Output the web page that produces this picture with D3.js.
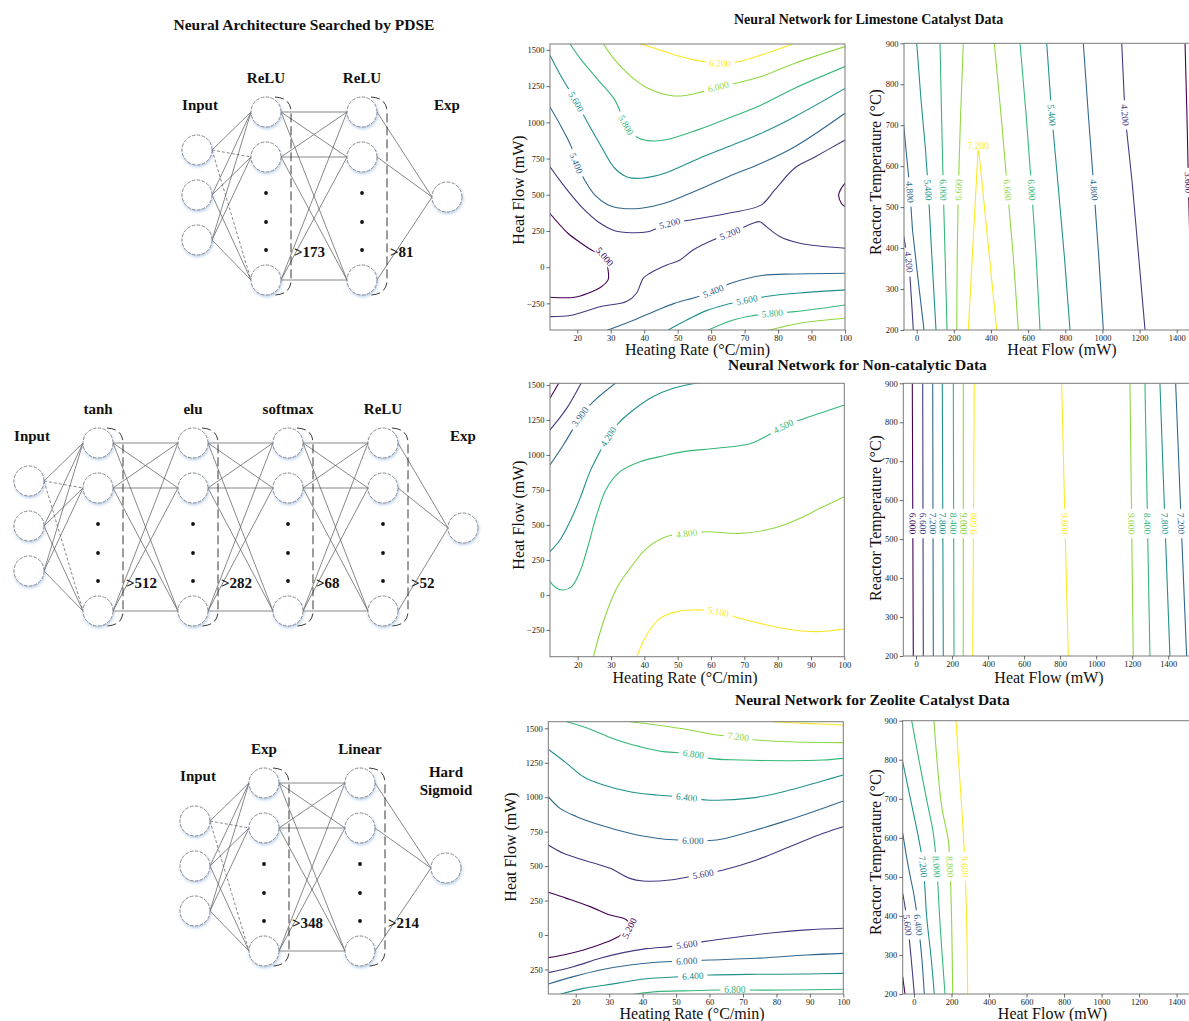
<!DOCTYPE html>
<html><head><meta charset="utf-8">
<script src="https://cdnjs.cloudflare.com/ajax/libs/d3/7.8.5/d3.min.js"></script>
<style>body{margin:0;background:#fff}svg{display:block}</style>
</head><body>
<svg id="c" width="1189" height="1021"></svg>
<script>
const FONT = "'Liberation Serif','Times New Roman',Times,serif";

// ---------------- network architecture data ----------------
const inputLabel = "Input";
const limestoneActs = ["ReLU", "ReLU"];
const limestoneUnits = [173, 81];
const limestoneOut = ["Exp"];
const nonCatActs = ["tanh", "elu", "softmax", "ReLU"];
const nonCatUnits = [512, 282, 68, 52];
const nonCatOut = ["Exp"];
const zeoliteActs = ["Exp", "Linear"];
const zeoliteUnits = [348, 214];
const zeoliteOut = ["Hard", "Sigmoid"];

// ---------------- tick values / labels ----------------
const rateTicks = [20, 30, 40, 50, 60, 70, 80, 90, 100];
const flowTicksY = [-250, 0, 250, 500, 750, 1000, 1250, 1500];
const flowTicksX = [0, 200, 400, 600, 800, 1000, 1200, 1400];
const tempTicks = [200, 300, 400, 500, 600, 700, 800, 900];
const zeoFlowTickLabels = ["250", "0", "250", "500", "750", "1000", "1250", "1500"];

// ---------------- contour lines (x, y in data units), lab = vertex indices carrying a label ----------------
// Limestone: Heating rate (°C/min) vs Heat flow (mW)
const limeRateLines = [
 {level:6.2, pts:[[38.1,1546],[43.1,1512],[49.1,1465],[56.0,1426],[62.6,1408],[68.1,1419],[75.0,1465],[85.0,1546]], lab:[4]},
 {level:6.0, pts:[[27.7,1546],[31.2,1431],[36.1,1316],[41.1,1236],[49.1,1182],[56.0,1203],[62.1,1247],[68.1,1274],[75.0,1316],[85.0,1408],[100,1523]], lab:[6]},
 {level:5.8, pts:[[17.7,1546],[21.2,1431],[26.2,1293],[31.2,1155],[34.6,982],[37.6,901],[41.1,874],[46.1,878],[56.0,948],[65.1,1028],[75.0,1120],[85.0,1236],[100,1385]], lab:[4]},
 {level:5.6, pts:[[11.8,1465],[15.2,1316],[19.7,1143],[23.2,994],[27.2,832],[31.2,683],[35.1,621],[39.1,614],[46.1,648],[56.0,747],[65.1,832],[75.0,925],[85.0,1039],[100,1234]], lab:[2]},
 {level:5.4, pts:[[11.8,1108],[15.2,970],[18.2,832],[19.7,718],[22.2,602],[25.2,499],[29.2,430],[33.1,407],[39.1,407],[46.1,441],[56.0,533],[65.1,625],[75.0,718],[85.0,832],[100,1063]], lab:[3]},
 {level:5.2, pts:[[11.8,694],[16.2,556],[21.2,418],[26.2,314],[31.2,252],[36.1,238],[41.1,245],[47.6,303],[54.0,326],[65.1,372],[75.0,430],[79.0,533],[85.0,685],[91.0,761],[100,878]], lab:[7]},
 {level:5.0, pts:[[11.8,372],[17.2,234],[21.2,165],[24.2,119],[28.2,73],[29.2,-19],[29.2,-88],[27.2,-135],[23.2,-180],[19.2,-208],[11.8,-208]], lab:[4]},
 {level:5.0, pts:[[100,579],[98.9,545],[98.1,499],[98.9,441],[100,418]], lab:[]},
 {level:5.2, pts:[[11.8,-342],[18.7,-330],[26.8,-273],[34.7,-238],[37.7,-180],[39.7,-77],[41.7,-42],[46.7,15],[50.7,50],[54.6,119],[60.6,188],[65.6,234],[72.5,303],[74.5,314],[76.5,280],[80.5,211],[86.5,165],[100,131]], lab:[11]},
 {level:5.4, pts:[[28.5,-440],[37.0,-365],[44.0,-296],[49.0,-250],[56.0,-204],[60.6,-165],[66.1,-110],[75.0,-58],[85.0,-47],[100,-42]], lab:[5]},
 {level:5.6, pts:[[46.7,-440],[52.7,-365],[58.4,-302],[64.1,-261],[70.7,-227],[77.5,-199],[86.5,-178],[100,-157]], lab:[4]},
 {level:5.8, pts:[[58.6,-440],[66.6,-365],[72.5,-335],[78.3,-318],[85.0,-307],[100,-261]], lab:[3]},
 {level:6.0, pts:[[76.5,-440],[86.5,-387],[100,-353]], lab:[]}
];
// Limestone: Heat flow (mW) vs Reactor temperature (°C)
const limeTempLines = [
 {level:4.2, pts:[[-71,432],[-57.6,395],[-41.5,366],[-28,273],[-18.3,200]], lab:[2]},
 {level:4.8, pts:[[-71.1,705],[-57.6,640],[-44.2,578],[-36.1,537],[-22.6,444],[1.6,346],[39.3,200]], lab:[3]},
 {level:5.4, pts:[[0,900],[23.2,762],[47.4,640],[62.5,542],[79.7,395],[103.9,200]], lab:[3]},
 {level:6.0, pts:[[125.5,900],[134,720],[143.2,542],[153,380],[163.2,200]], lab:[2]},
 {level:6.6, pts:[[250.9,900],[236,720],[224,542],[218,380],[215.4,200]], lab:[2]},
 {level:7.2, pts:[[277.9,200],[331.7,650],[430.8,200]], lab:[1]},
 {level:6.6, pts:[[417.9,900],[455,720],[489,542],[520,380],[547.1,200]], lab:[2]},
 {level:6.0, pts:[[556.3,900],[590,720],[619.3,542],[643,380],[664,200]], lab:[2]},
 {level:5.4, pts:[[700.1,900],[727,725],[760,560],[795,380],[825.5,200]], lab:[1]},
 {level:4.8, pts:[[897.1,900],[925,720],[954.7,542],[980,380],[1004.8,200]], lab:[2]},
 {level:4.2, pts:[[1103.9,900],[1121.7,725],[1160,560],[1195,380],[1229.4,200]], lab:[1]},
 {level:3.6, pts:[[1444.8,900],[1455,725],[1463,560],[1472,380],[1482.5,200]], lab:[2]}
];
// Non-catalytic: Heating rate vs Heat flow
const nonCatRateLines = [
 {level:3.3, pts:[[11.7,1405],[14.5,1520]], lab:[]},
 {level:3.6, pts:[[11.7,1179],[16.7,1333],[21.2,1520]], lab:[]},
 {level:3.9, pts:[[11.7,929],[15.7,1071],[18.7,1190],[20.7,1274],[24.7,1381],[31.7,1520]], lab:[3]},
 {level:4.2, pts:[[11.7,310],[14.7,393],[17.7,524],[20.7,690],[23.7,881],[26.7,1024],[29.2,1131],[32.2,1226],[36.7,1321],[42.7,1417],[48.7,1476],[57.2,1520]], lab:[6]},
 {level:4.5, pts:[[11.7,95],[13.7,48],[15.7,36],[18.2,60],[20.7,167],[23.2,357],[25.7,571],[28.7,762],[32.7,881],[38.7,952],[44.7,988],[51.7,1024],[61.7,1048],[71.7,1080],[76.7,1135],[81.7,1205],[86.7,1250],[92.7,1298],[100,1357]], lab:[15]},
 {level:4.8, pts:[[24.7,-445],[27.7,-191],[31.7,48],[35.7,190],[40.7,333],[46.7,417],[52.7,440],[58.7,452],[68.7,440],[78.7,476],[86.7,548],[92.7,619],[100,702]], lab:[6]},
 {level:5.1, pts:[[37.7,-445],[40.7,-286],[44.7,-167],[49.7,-119],[54.7,-107],[62.2,-119],[68.7,-167],[76.7,-214],[84.7,-250],[91.7,-262],[100,-243]], lab:[5]}
];
// Non-catalytic: Heat flow vs Reactor temperature
const nonCatTempLines = [
 {level:6.0, pts:[[-20.5,900],[-17.8,540],[-15,200]], lab:[1]},
 {level:6.6, pts:[[37.2,900],[38.9,540],[40.5,200]], lab:[1]},
 {level:7.2, pts:[[92.7,900],[94.4,540],[96,200]], lab:[1]},
 {level:7.8, pts:[[146,900],[148.8,540],[151.5,200]], lab:[1]},
 {level:8.4, pts:[[207,900],[209,540],[210.9,200]], lab:[1]},
 {level:9.0, pts:[[262.5,900],[262.5,540],[262.5,200]], lab:[1]},
 {level:9.6, pts:[[323.5,900],[319,540],[314.7,200]], lab:[1]},
 {level:9.6, pts:[[808.5,900],[827,540],[845.2,200]], lab:[1]},
 {level:9.0, pts:[[1187.6,900],[1197,540],[1205.9,200]], lab:[1]},
 {level:8.4, pts:[[1270.8,900],[1285,540],[1298.6,200]], lab:[1]},
 {level:7.8, pts:[[1354,900],[1382,540],[1409.5,200]], lab:[1]},
 {level:7.2, pts:[[1441.2,900],[1472,540],[1502.2,200]], lab:[1]}
];
// Zeolite: Heating rate vs Heat flow
const zeoRateLines = [
 {level:7.6, pts:[[79.1,1548],[89.0,1536],[100,1524]], lab:[]},
 {level:7.2, pts:[[36.2,1548],[44.2,1524],[54.2,1488],[62.1,1452],[68.6,1440],[74.1,1415],[84.0,1403],[100,1396]], lab:[4]},
 {level:6.8, pts:[[17.3,1548],[22.3,1512],[27.3,1464],[32.3,1415],[39.2,1367],[46.2,1331],[55.2,1314],[60.1,1282],[69.1,1270],[84.0,1265],[94.0,1270],[100,1282]], lab:[6]},
 {level:6.4, pts:[[11.8,1348],[17.3,1246],[22.3,1149],[28.3,1089],[36.2,1040],[44.2,1016],[53.2,999],[59.1,980],[64.1,980],[74.1,999],[84.0,1052],[94.0,1120],[100,1161]], lab:[6]},
 {level:6.0, pts:[[11.8,1004],[15.3,919],[20.3,859],[27.3,798],[36.2,738],[44.2,702],[55.0,685],[62.1,690],[72.1,750],[82.1,823],[91.0,895],[100,973]], lab:[6]},
 {level:5.6, pts:[[11.8,653],[16.3,593],[22.3,545],[30.3,484],[36.2,411],[40.2,392],[48.2,399],[58.1,443],[64.1,472],[74.1,545],[84.0,641],[94.0,738],[100,786]], lab:[7]},
 {level:5.2, pts:[[11.8,310],[17.3,266],[24.3,206],[30.3,145],[35.2,109],[36.0,50],[32.7,-12],[28.3,-60],[22.3,-109],[16.3,-145],[11.8,-164]], lab:[5]},
 {level:5.6, pts:[[11.8,-273],[19.3,-230],[27.3,-169],[34.2,-128],[41.2,-99],[48.2,-84],[53.2,-68],[58.1,-48],[69.1,-12],[79.1,17],[89.0,37],[100,49]], lab:[6]},
 {level:6.0, pts:[[11.8,-355],[19.3,-302],[27.3,-254],[36.2,-218],[44.2,-198],[53.2,-188],[60.1,-181],[74.1,-169],[89.0,-145],[100,-133]], lab:[5]},
 {level:6.4, pts:[[15.3,-430],[22.3,-387],[32.3,-351],[40.2,-319],[48.2,-307],[55.0,-297],[60.1,-290],[74.1,-285],[89.0,-283],[100,-278]], lab:[5]},
 {level:6.8, pts:[[37.2,-430],[44.2,-411],[54.2,-404],[62.1,-399],[67.6,-394],[72.1,-399],[84.0,-399],[100,-394]], lab:[4]}
];
// Zeolite: Heat flow vs Reactor temperature
const zeoTempLines = [
 {level:4.8, pts:[[-60.2,244],[-48,200]], lab:[]},
 {level:5.6, pts:[[-60.2,458],[-48,424],[-33.6,377],[-16,296],[1.6,200]], lab:[2]},
 {level:6.4, pts:[[-60.2,612],[-30.4,526],[1.6,449],[23,377],[41,296],[54.9,200]], lab:[3]},
 {level:7.2, pts:[[-60.2,795],[-21.3,705],[23,603],[49.6,526],[67.7,398],[90.6,296],[108.2,200]], lab:[3]},
 {level:8.0, pts:[[-12.3,900],[23,808],[67.7,697],[102.9,612],[121,526],[138.6,381],[165.2,200]], lab:[4]},
 {level:8.8, pts:[[106.6,900],[121,808],[147.7,680],[182.8,594],[191.9,526],[200.9,381],[206.3,200]], lab:[4]},
 {level:9.6, pts:[[223.9,900],[236.1,808],[254.3,680],[271.9,526],[280.9,381],[286.2,200]], lab:[3]}
];

// ---------------- drawing ----------------
const svg = d3.select("#c");
const defs = svg.append("defs");
const glow = defs.append("filter").attr("id","glow").attr("x","-60%").attr("y","-60%").attr("width","220%").attr("height","220%");
glow.append("feDropShadow").attr("dx",0.6).attr("dy",1.6).attr("stdDeviation",1.6).attr("flood-color","#6f9fd8").attr("flood-opacity",0.55);

function txt(g, s, x, y, size, opts={}) {
  return g.append("text").text(s).attr("x",x).attr("y",y)
    .attr("font-family",FONT).attr("font-size",size)
    .attr("font-weight",opts.bold?"bold":"normal")
    .attr("text-anchor",opts.anchor||"middle")
    .attr("dominant-baseline",opts.base||"auto")
    .attr("fill",opts.fill||"#111");
}

function drawNet(acts, units, outLab, lay) {
  const g = svg.append("g");
  const r = 15;
  const xs = [lay.x0, ...acts.map((_, i) => lay.x0 + 69 + lay.step * i)];
  xs.push(xs[xs.length - 1] + lay.outGap);
  const cy = lay.cy;
  const inY = [cy - 45, cy, cy + 45];
  const hidY = [cy - 83, cy - 38, cy + 85];
  const dotY = [cy - 2, cy + 27, cy + 55];
  const outY = [cy + 2];
  const cols = [inY, ...acts.map(() => hidY), outY];
  const edges = [];
  for (let l = 0; l < cols.length - 1; l++)
    cols[l].forEach((ya, a) => cols[l + 1].forEach((yb, b) =>
      edges.push({x1: xs[l] + r, y1: ya, x2: xs[l + 1] - r, y2: yb, dash: l === 0 && a === 0 && b > 0})));
  g.selectAll("line.e").data(edges).join("line")
    .attr("x1", d => d.x1).attr("y1", d => d.y1).attr("x2", d => d.x2).attr("y2", d => d.y2)
    .attr("stroke", "#555").attr("stroke-width", 0.7)
    .attr("stroke-dasharray", d => d.dash ? "3,2" : null);
  acts.forEach((_, i) => {
    const bx = xs[i + 1], t = hidY[0], b = hidY[2];
    g.append("path")
      .attr("d", `M${bx + 9},${t - 15} Q${bx + 25},${t - 14} ${bx + 25},${t} L${bx + 25},${b} Q${bx + 25},${b + 14} ${bx + 9},${b + 15}`)
      .attr("fill", "none").attr("stroke", "#222").attr("stroke-width", 0.9).attr("stroke-dasharray", "9,4");
  });
  const nodes = [];
  cols.forEach((c, l) => c.forEach(yv => nodes.push({x: xs[l], y: yv})));
  g.selectAll("circle.n").data(nodes).join("circle")
    .attr("cx", d => d.x).attr("cy", d => d.y).attr("r", r)
    .attr("fill", "#fff").attr("stroke", "#8a8a8a").attr("stroke-width", 1)
    .attr("stroke-dasharray", "3.5,1.5").attr("filter", "url(#glow)");
  acts.forEach((_, i) => dotY.forEach(yv =>
    g.append("circle").attr("cx", xs[i + 1]).attr("cy", yv).attr("r", 1.9).attr("fill", "#111")));
  txt(g, inputLabel, xs[0] + 3, cy - 90, 15, {bold: true, base: "central"});
  acts.forEach((a, i) => {
    txt(g, a, xs[i + 1], cy - 117, 15, {bold: true, base: "central"});
    txt(g, ">" + units[i], xs[i + 1] + 28, cy + 57, 15, {bold: true, base: "central", anchor: "start"});
  });
  const xo = xs[xs.length - 1];
  if (outLab.length === 1) txt(g, outLab[0], xo, cy - 90, 15, {bold: true, base: "central"});
  else outLab.forEach((s, k) => txt(g, s, xo, cy - 94 + 18 * k, 15, {bold: true, base: "central"}));
}

function drawPanel(p) {
  const x = d3.scaleLinear().domain(p.xDom).range(p.xR);
  const y = d3.scaleLinear().domain(p.yDom).range(p.yR);
  const g = svg.append("g");
  const cid = "clip-" + p.id;
  defs.append("clipPath").attr("id", cid).append("rect")
    .attr("x", p.xR[0]).attr("y", p.yR[1]).attr("width", p.xR[1] - p.xR[0]).attr("height", p.yR[0] - p.yR[1]);
  const levels = Array.from(new Set(p.lines.map(d => d.level))).sort(d3.ascending);
  const color = d3.scaleSequential(d3.interpolateViridis).domain(d3.extent(levels));
  const line = d3.line().x(d => x(d[0])).y(d => y(d[1]))
    .curve(p.smooth ? d3.curveCatmullRom.alpha(0.5) : d3.curveLinear);
  const cg = g.append("g").attr("clip-path", `url(#${cid})`);
  cg.selectAll("path.c").data(p.lines).join("path")
    .attr("d", d => line(d.pts)).attr("fill", "none")
    .attr("stroke", d => color(d.level)).attr("stroke-width", 1.1);
  p.lines.forEach(d => {
    (d.lab || []).forEach(i => {
      const P = [x(d.pts[i][0]), y(d.pts[i][1])];
      const A = d.pts[Math.max(0, i - 1)], B = d.pts[Math.min(d.pts.length - 1, i + 1)];
      let ang = Math.atan2(y(B[1]) - y(A[1]), x(B[0]) - x(A[0])) * 180 / Math.PI;
      if (ang > 90) ang -= 180;
      if (ang < -90) ang += 180;
      const lg = cg.append("g").attr("transform", `translate(${P[0]},${P[1]}) rotate(${ang})`);
      const rect = lg.append("rect").attr("fill", "#fff");
      const t = lg.append("text").text(d.level.toFixed(3))
        .attr("text-anchor", "middle").attr("dy", "0.35em")
        .attr("font-size", 9.5).attr("font-family", FONT).attr("fill", color(d.level));
      const w = t.node().getComputedTextLength();
      rect.attr("x", -w / 2 - 4).attr("y", -4.5).attr("width", w + 8).attr("height", 9);
    });
  });
  g.append("rect").attr("x", p.xR[0]).attr("y", p.yR[1])
    .attr("width", p.xR[1] - p.xR[0]).attr("height", p.yR[0] - p.yR[1])
    .attr("fill", "none").attr("stroke", "#7a7a7a").attr("stroke-width", 1);
  const fmt = v => v < 0 ? "\u2212" + Math.abs(v) : String(v);
  const ax = g.append("g").attr("transform", `translate(0,${p.yR[0]})`)
    .call(d3.axisBottom(x).tickValues(p.xt).tickSize(3.5).tickPadding(1.5).tickFormat(fmt));
  const ay = g.append("g").attr("transform", `translate(${p.xR[0]},0)`)
    .call(d3.axisLeft(y).tickValues(p.yt).tickSize(3.5).tickPadding(2)
      .tickFormat(p.ytl ? ((v, i) => p.ytl[i]) : fmt));
  [ax, ay].forEach(a => {
    a.select(".domain").remove();
    a.selectAll("text").attr("font-family", FONT).attr("font-size", 8.5).attr("fill", "#222");
    a.selectAll("line").attr("stroke", "#444").attr("stroke-width", 0.8);
  });
  txt(g, p.xl, p.xlx, p.xly, 16);
  txt(g, p.yl, 0, 0, 16, {base: "central"}).attr("transform", `translate(${p.ylx},${p.yly}) rotate(-90)`);
}

// titles
txt(svg, "Neural Architecture Searched by PDSE", 304, 30, 15.5, {bold: true});
txt(svg, "Neural Network for Limestone Catalyst Data", 734, 24, 14, {bold: true, anchor: "start"});
txt(svg, "Neural Network for Non-catalytic Data", 728, 370, 15.5, {bold: true, anchor: "start"});
txt(svg, "Neural Network for Zeolite Catalyst Data", 735, 705, 15.5, {bold: true, anchor: "start"});

// networks
drawNet(limestoneActs, limestoneUnits, limestoneOut, {x0: 197, cy: 195, step: 96, outGap: 85});
drawNet(nonCatActs, nonCatUnits, nonCatOut, {x0: 29, cy: 526, step: 95, outGap: 80});
drawNet(zeoliteActs, zeoliteUnits, zeoliteOut, {x0: 195, cy: 866, step: 96, outGap: 86});

// contour panels
drawPanel({id: "tm", lines: limeRateLines, smooth: true, xDom: [11.85, 100], xR: [550, 845], yDom: [-434, 1541], yR: [330, 44],
  xt: rateTicks, yt: flowTicksY, xl: "Heating Rate (°C/min)", yl: "Heat Flow (mW)", xlx: 697.5, xly: 355, ylx: 518, yly: 190});
drawPanel({id: "tr", lines: limeTempLines, smooth: false, xDom: [-68.4, 1633], xR: [904, 1220], yDom: [200, 900], yR: [330, 43.3],
  xt: flowTicksX, yt: tempTicks, xl: "Heat Flow (mW)", yl: "Reactor Temperature (°C)", xlx: 1062, xly: 355, ylx: 875, yly: 172});
drawPanel({id: "mm", lines: nonCatRateLines, smooth: true, xDom: [11.7, 100], xR: [550, 844.3], yDom: [-441, 1512], yR: [656.7, 383.3],
  xt: rateTicks, yt: flowTicksY, xl: "Heating Rate (°C/min)", yl: "Heat Flow (mW)", xlx: 685, xly: 683, ylx: 518, yly: 515});
drawPanel({id: "mr", lines: nonCatTempLines, smooth: false, xDom: [-70.5, 1547], xR: [903.3, 1194.7], yDom: [200, 900], yR: [656, 383.3],
  xt: flowTicksX, yt: tempTicks, xl: "Heat Flow (mW)", yl: "Reactor Temperature (°C)", xlx: 1049, xly: 683, ylx: 875, yly: 518});
drawPanel({id: "bm", lines: zeoRateLines, smooth: true, xDom: [11.8, 100], xR: [548.3, 843.3], yDom: [-428, 1548], yR: [994, 721.7],
  xt: rateTicks, yt: flowTicksY, ytl: zeoFlowTickLabels, xl: "Heating Rate (°C/min)", yl: "Heat Flow (mW)", xlx: 692, xly: 1019, ylx: 510, yly: 847});
drawPanel({id: "br", lines: zeoTempLines, smooth: true, xDom: [-60.2, 1537], xR: [902.7, 1202.3], yDom: [200, 900], yR: [994, 720.7],
  xt: flowTicksX, yt: tempTicks, xl: "Heat Flow (mW)", yl: "Reactor Temperature (°C)", xlx: 1052.5, xly: 1019, ylx: 875, yly: 852});
</script>
</body></html>
